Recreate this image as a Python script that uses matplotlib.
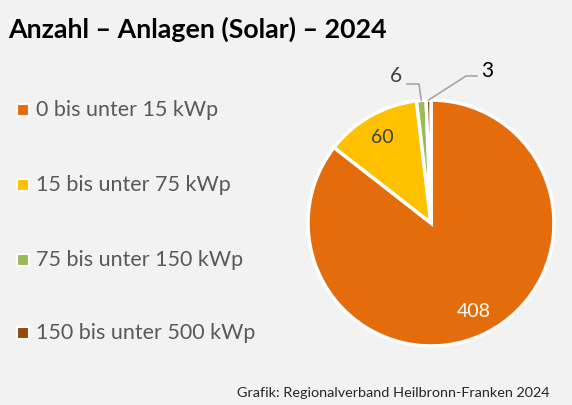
import numpy as np
import matplotlib.pyplot as plt

plt.rcParams['font.family'] = ['Lato', 'DejaVu Sans']

# data
categories = ['0 bis unter 15 kWp', '15 bis unter 75 kWp',
              '75 bis unter 150 kWp', '150 bis unter 500 kWp']
values = [408, 60, 6, 3]
colors = ['#E46C0A', '#FFC000', '#9BBB59', '#984807']
title = 'Anzahl – Anlagen (Solar) – 2024'
source = 'Grafik: Regionalverband Heilbronn-Franken 2024'

W, H = 572, 405
bg = '#F2F2F2'
fig = plt.figure(figsize=(W / 100, H / 100), dpi=100, facecolor=bg)

# pie axes (center ~ (431,223) px, radius ~123 px)
cx, cy, r = 431, 223, 123
ax = fig.add_axes([(cx - r) / W, 1 - (cy + r) / H, 2 * r / W, 2 * r / H])
ax.set_facecolor(bg)
wedges, _ = ax.pie(values, colors=colors, startangle=90, counterclock=False,
                   wedgeprops=dict(edgecolor='white', linewidth=2.5))
ax.set_xlim(-1, 1)
ax.set_ylim(-1, 1)
ax.set_aspect('equal')
ax.axis('off')


def px(x, y):
    return (x - cx) / r, (cy - y) / r


def mid(w):
    a = np.deg2rad((w.theta1 + w.theta2) / 2)
    return np.cos(a), np.sin(a)


# inside labels
c, s = mid(wedges[0])
ax.text(0.8 * c, 0.8 * s, str(values[0]), color='white', fontsize=14,
        ha='center', va='center')
c, s = mid(wedges[1])
ax.text(0.8 * c, 0.8 * s, str(values[1]), color='#404040', fontsize=14,
        ha='center', va='center')

# outside labels with leader lines
c, s = mid(wedges[2])
e1 = px(419, 84)
e2 = px(407, 84)
ax.plot([c, e1[0], e2[0]], [s, e1[1], e2[1]], color='#A6A6A6', lw=1.2,
        clip_on=False)
t = px(396, 76)
ax.text(t[0], t[1], str(values[2]), color='#404040', fontsize=15,
        ha='center', va='center')

c, s = mid(wedges[3])
e1 = px(466, 76)
e2 = px(477, 76)
ax.plot([c, e1[0], e2[0]], [s, e1[1], e2[1]], color='#A6A6A6', lw=1.2,
        clip_on=False)
t = px(487, 71)
ax.text(t[0], t[1], str(values[3]), color='black', fontsize=15,
        ha='center', va='center')

# title
fig.text(8 / W, 1 - 29 / H, title, fontsize=19.3, fontweight='bold',
         color='black', ha='left', va='center')

# legend
leg_y = [110, 185, 260, 333]
for lab, col, y in zip(categories, colors, leg_y):
    fig.patches.append(plt.Rectangle(((23 - 6) / W, 1 - (y + 6) / H),
                                     12 / W, 12 / H, transform=fig.transFigure,
                                     facecolor=col, edgecolor='white', lw=1.5))
    fig.text(36 / W, 1 - y / H, lab, fontsize=15.5, color='#595959',
             ha='left', va='center')

# source
fig.text(550 / W, 1 - 393 / H, source, fontsize=10.4, color='#262626',
         ha='right', va='center')

fig.savefig('out.png', dpi=100, facecolor=bg)
